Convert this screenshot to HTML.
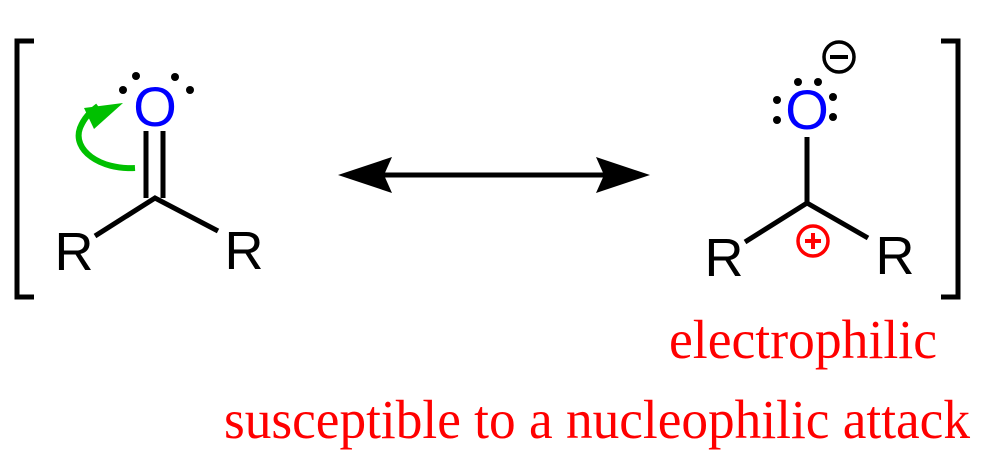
<!DOCTYPE html>
<html><head><meta charset="utf-8"><style>
html,body{margin:0;padding:0;background:#fff;}
svg{display:block;}
.s{font-family:"Liberation Sans",sans-serif;}
.t{font-family:"Liberation Serif",serif;fill:#ff0000;}
</style></head><body>
<svg width="992" height="461" viewBox="0 0 992 461" xmlns="http://www.w3.org/2000/svg">
<g stroke="#000" stroke-width="5" fill="none">
<polyline points="34,41 17,41 17,297 34,297"/>
<polyline points="941,41 958,41 958,297 941,297"/>
<line x1="146" y1="131" x2="146" y2="198"/>
<line x1="163" y1="131" x2="163" y2="198"/>
<polyline points="95,236 155,198 218,231"/>
<line x1="807" y1="137" x2="807" y2="203"/>
<polyline points="745,242 807,203 868,238"/>
<line x1="360" y1="175" x2="628" y2="175"/>
</g>
<polygon points="338,175 392,157 384,175 392,193" fill="#000"/>
<polygon points="650,175 596,157 604,175 596,193" fill="#000"/>
<path d="M135,168 C100,170 72,150 80,128 C84,118 90,112 98,106" stroke="#00c000" stroke-width="6" fill="none"/>
<polygon points="123,103 84,108 94,129" fill="#00c000"/>
<g fill="#000">
<circle cx="123" cy="90" r="4"/><circle cx="136" cy="76" r="4"/>
<circle cx="175" cy="77" r="4"/><circle cx="190" cy="90" r="4"/>
<circle cx="777" cy="100" r="4"/><circle cx="777" cy="120" r="4"/>
<circle cx="833" cy="97" r="4"/><circle cx="833" cy="117" r="4"/>
<circle cx="798" cy="82" r="4"/><circle cx="818" cy="82" r="4"/>
</g>
<text class="s" x="155" y="126" font-size="56" fill="#0000ff" text-anchor="middle">O</text>
<text class="s" x="807" y="129" font-size="56" fill="#0000ff" text-anchor="middle">O</text>
<text class="s" x="74" y="270" font-size="54" fill="#000" text-anchor="middle">R</text>
<text class="s" x="244" y="269" font-size="54" fill="#000" text-anchor="middle">R</text>
<text class="s" x="724" y="276" font-size="54" fill="#000" text-anchor="middle">R</text>
<text class="s" x="895" y="274" font-size="54" fill="#000" text-anchor="middle">R</text>
<circle cx="839" cy="57" r="15" stroke="#000" stroke-width="3.5" fill="none"/>
<line x1="830" y1="57" x2="848" y2="57" stroke="#000" stroke-width="4"/>
<circle cx="813" cy="241" r="15" stroke="#ff0000" stroke-width="3.5" fill="none"/>
<line x1="805" y1="241" x2="821" y2="241" stroke="#ff0000" stroke-width="4"/>
<line x1="813" y1="233" x2="813" y2="249" stroke="#ff0000" stroke-width="4"/>
<text class="t" x="669" y="358" font-size="55" textLength="268" lengthAdjust="spacingAndGlyphs">electrophilic</text>
<text class="t" x="224" y="438" font-size="55" textLength="746" lengthAdjust="spacingAndGlyphs">susceptible to a nucleophilic attack</text>
</svg>
</body></html>
